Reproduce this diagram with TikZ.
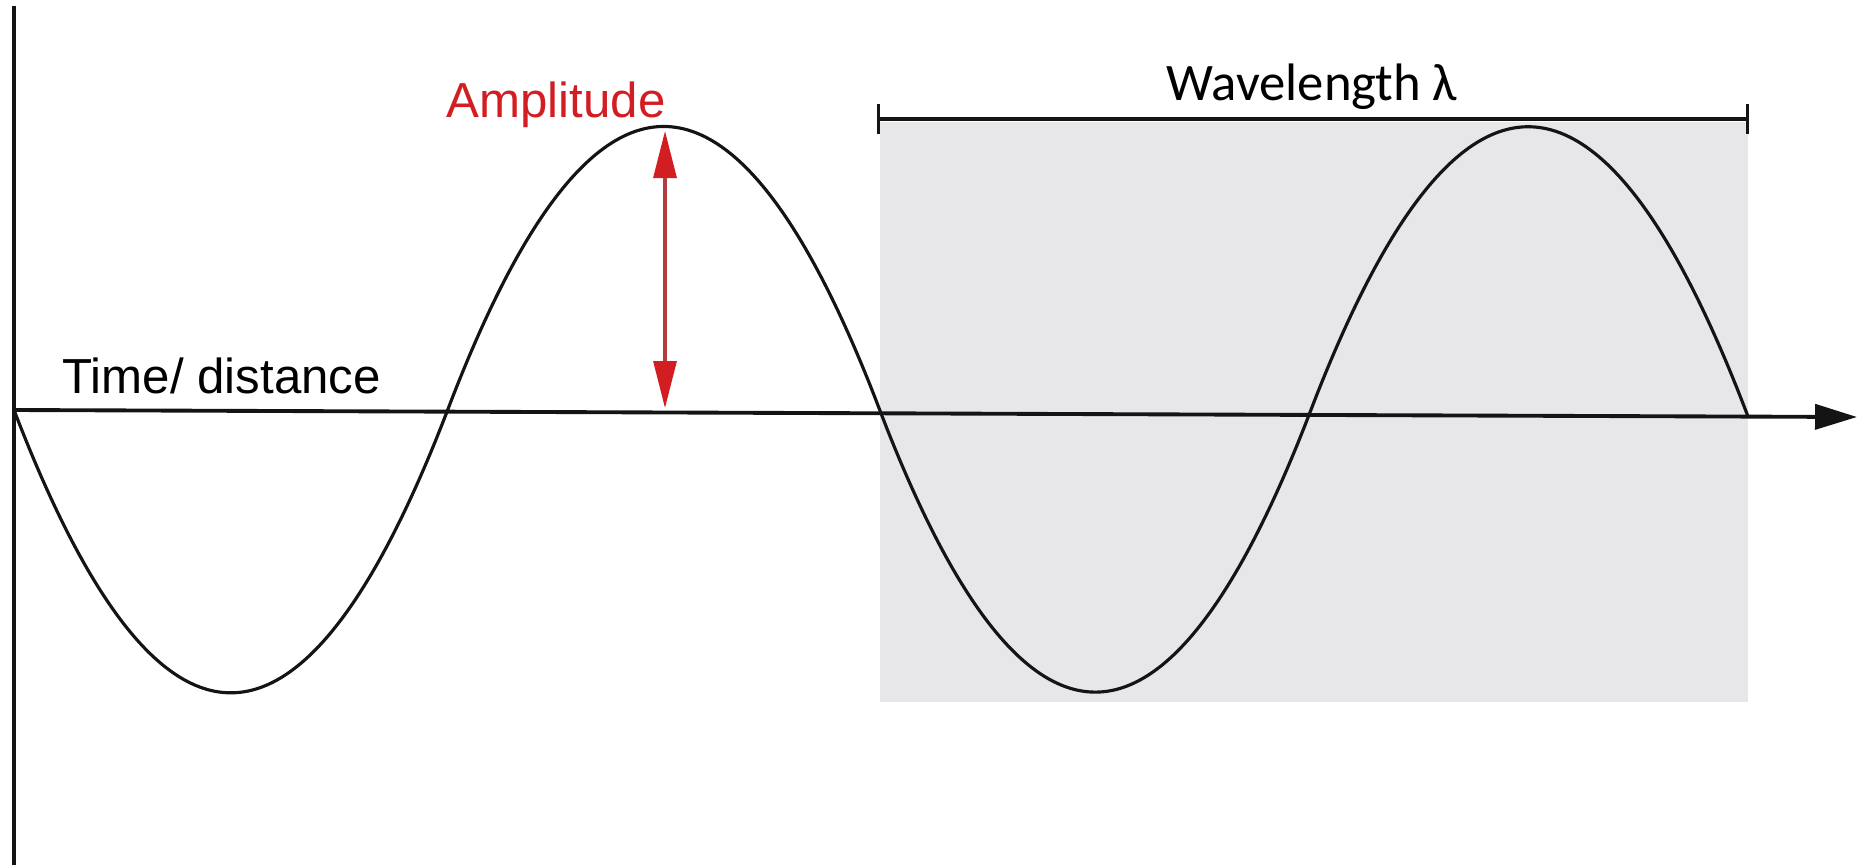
\documentclass[tikz,border=0pt]{standalone}
\usepackage{fontspec}
\setmainfont{Liberation Sans}
\newfontfamily\labelfont{Carlito}
\usetikzlibrary{arrows.meta,calc,positioning}
\definecolor{ink}{RGB}{20,20,20}
\definecolor{ampred}{RGB}{210,30,35}
\definecolor{ampshaft}{RGB}{180,60,62}
\definecolor{bandgray}{RGB}{231,230,232}
\tikzset{
  axis/.style={-{Triangle[length=0.42cm, width=0.25cm]}, line width=1.1pt, draw=ink},
  wave/.style={line width=0.9pt, draw=ink, line cap=round},
  ampflow/.style={{Triangle[length=0.47cm, width=0.23cm, color=ampred]}-{Triangle[length=0.47cm, width=0.23cm, color=ampred]}, line width=0.9pt, draw=ampshaft},
  spanbar/.style={{Bar[width=0.3cm]}-{Bar[width=0.3cm]}, line width=0.9pt, draw=ink},
  lab/.style={font=\fontsize{14}{16}\selectfont, inner sep=0pt},
}

\begin{document}
\begin{tikzpicture}[x=1cm,y=1cm]
  \useasboundingbox (0,0) rectangle (18.57,-8.66);

  % Shaded band, one full wavelength.
  \fill[bandgray] (8.80,-1.22) rectangle (17.48,-7.02);

  % Axes.
  \coordinate (origin) at (0.14,-4.10);
  \coordinate (axisEnd) at (18.57,-4.17);
  \coordinate (yTop) at (0.14,-0.06);
  \coordinate (yBot) at (0.14,-8.65);
  \draw[line width=0.9pt, draw=ink] (yTop) -- (yBot);
  \draw[axis] (origin) -- (axisEnd);
  \node[lab, anchor=base west] (timeLabel) at (0.62,-3.93) {Time/ distance};

  % Two periods of the wave, one half wave at a time.
  \foreach \xa/\xb/\amp in {0.14/4.47/-2.82, 4.47/8.81/2.86, 8.81/13.09/-2.78, 13.09/17.48/2.89} {
    \draw[wave] plot[domain=0:1, samples=80, smooth]
      ({\xa+(\xb-\xa)*\x}, {-4.10-0.07*(\xa+(\xb-\xa)*\x-0.14)/18.43+\amp*4*\x*(1-\x)});
  }

  % Amplitude marker at the first crest.
  \coordinate (crest) at (6.65,-1.31);
  \coordinate (crestFoot) at (6.65,-4.08);
  \draw[ampflow] (crestFoot) -- (crest);
  \node[lab, text=ampred, anchor=base] (ampLabel) at (5.56,-1.17) {Amplitude};

  % Wavelength bar.
  \coordinate (spanL) at (8.77,-1.19);
  \coordinate (spanR) at (17.49,-1.19);
  \draw[spanbar] (spanL) -- (spanR);
  \node[inner sep=0pt, anchor=base, font=\labelfont\fontsize{15}{17}\selectfont] (waveLabel)
    at (13.12,-1.00) {Wavelength λ};

\end{tikzpicture}
\end{document}
